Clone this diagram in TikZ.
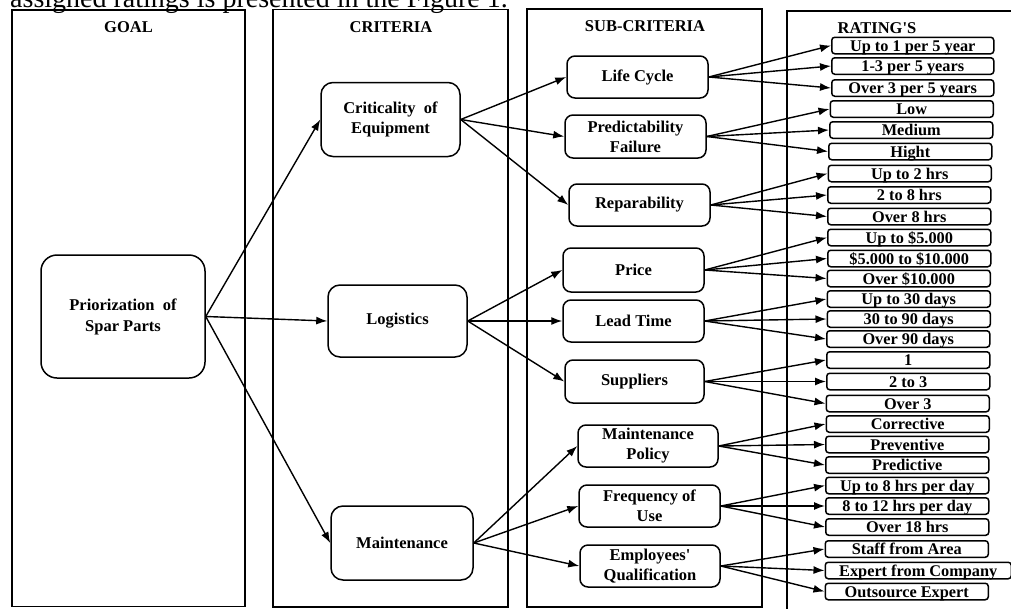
\documentclass[tikz,border=0pt]{standalone}
\usepackage{fontspec}
\setmainfont{Liberation Serif}[Ligatures=TeXOff]
\usetikzlibrary{arrows.meta}
\tikzset{
  panel/.style={draw, line width=1.5pt},
  head/.style={font=\fontsize{16.5}{18}\selectfont\bfseries, inner sep=0pt},
  goalbox/.style={draw, line width=1.5pt, rounded corners=16pt, align=center,
    minimum width=164pt, minimum height=123pt, inner sep=0pt,
    font=\fontsize{16.5}{21}\selectfont\bfseries},
  critbox/.style={draw, line width=1.5pt, rounded corners=12pt, align=center,
    minimum width=139pt, minimum height=74pt, inner sep=0pt,
    font=\fontsize{16.5}{20}\selectfont\bfseries},
  subbox/.style={draw, line width=1.5pt, rounded corners=8pt, align=center,
    minimum width=141pt, minimum height=42pt, inner sep=0pt,
    font=\fontsize{16.5}{20}\selectfont\bfseries},
  ratebox/.style={draw, line width=1.5pt, rounded corners=3pt, anchor=west,
    minimum width=163pt, minimum height=16.5pt, inner sep=0pt,
    text height=11.5pt, text depth=0pt,
    font=\fontsize{16.3}{16}\selectfont\bfseries},
  arr/.style={line width=1.4pt, -{Latex[length=11pt,width=8pt]}},
}
\begin{document}
\begin{tikzpicture}[x=1pt,y=-1pt]
\useasboundingbox (0,0) rectangle (1011,608);
\clip (0,0) rectangle (1011,608);
% cut-off caption line at top
\node[anchor=base west, inner sep=0pt, font=\fontsize{28}{30}\selectfont] (cap) at (10,7) {assigned ratings is presented in the Figure 1.};
% panels
\draw[panel] (12,10) rectangle (245,606.5);
\draw[panel] (273,9.5) rectangle (508,607);
\draw[panel] (527,9) rectangle (762,607);
\draw[panel] (787,612) -- (787,11) -- (1015,11);
% headers
\node[head] (hg) at (128.5,27) {GOAL};
\node[head] (hc) at (391,27) {CRITERIA};
\node[head] (hs) at (645,26) {SUB-CRITERIA};
\node[head] (hr) at (877,28) {RATING'S};
% goal
\node[goalbox] (goal) at (123,316.5) {Priorization\ \ of\\Spar Parts};
% criteria
\node[critbox] (c1) at (390.5,119.5) {Criticality\ \ of\\Equipment};
\node[critbox, minimum height=72pt] (c2) at (397.5,321) {Logistics};
\node[critbox, minimum width=142pt] (c3) at (402,543) {Maintenance};
% sub-criteria
\node[subbox] (s1) at (637.5,77) {Life Cycle};
\node[subbox, minimum height=43pt] (s2) at (635.5,136.5) {Predictability\\Failure};
\node[subbox] (s3) at (639.5,205) {Reparability};
\node[subbox, minimum height=44pt] (s4) at (633.5,270) {Price};
\node[subbox] (s5) at (633.5,321) {Lead Time};
\node[subbox, minimum width=139pt, minimum height=43pt] (s6) at (634.5,381.5) {Suppliers};
\node[subbox, minimum width=140pt] (s7) at (648,446) {Maintenance\\Policy};
\node[subbox] (s8) at (649.5,506) {Frequency of\\Use};
\node[subbox, minimum width=140pt] (s9) at (650,566) {Employees'\\Qualification};
% ratings
\node[ratebox, minimum width=162pt] (r1) at (831,45.5) {Up to 1 per 5 year};
\node[ratebox, minimum width=162pt] (r2) at (831,66) {1-3 per 5 years};
\node[ratebox, minimum width=162pt] (r3) at (831,88) {Over 3 per 5 years};
\node[ratebox] (r4) at (829.5,109) {Low};
\node[ratebox] (r5) at (829,130) {Medium};
\node[ratebox] (r6) at (828,151.5) {Hight};
\node[ratebox] (r7) at (827.5,173.5) {Up to 2 hrs};
\node[ratebox] (r8) at (827,195) {2 to 8 hrs};
\node[ratebox] (r9) at (827,216.5) {Over 8 hrs};
\node[ratebox] (r10) at (827,237.5) {Up to \$5.000};
\node[ratebox] (r11) at (827,258.5) {\$5.000 to \$10.000};
\node[ratebox] (r12) at (826.5,278.5) {Over \$10.000};
\node[ratebox] (r13) at (826.5,299) {Up to 30 days};
\node[ratebox] (r14) at (826.5,319) {30 to 90 days};
\node[ratebox] (r15) at (826,339) {Over 90 days};
\node[ratebox] (r16) at (826,360) {1};
\node[ratebox] (r17) at (826,381.5) {2 to 3};
\node[ratebox] (r18) at (825.5,403.5) {Over 3};
\node[ratebox] (r19) at (825.5,424) {Corrective};
\node[ratebox] (r20) at (825,444.5) {Preventive};
\node[ratebox] (r21) at (825,465) {Predictive};
\node[ratebox] (r22) at (825,485.5) {Up to 8 hrs per day};
\node[ratebox] (r23) at (825,506) {8 to 12 hrs per day};
\node[ratebox] (r24) at (825,527) {Over 18 hrs};
\node[ratebox] (r25) at (824.5,549) {Staff from Area};
\node[ratebox, minimum width=186pt] (r26) at (824.5,570.5) {Expert from Company};
\node[ratebox] (r27) at (824.5,591.5) {Outsource Expert};
% connectors: goal -> criteria
\foreach \c in {c1,c2,c3} \draw[arr] (goal.east) -- (\c.west);
% criteria -> sub-criteria
\foreach \s in {s1,s2,s3} \draw[arr] (c1.east) -- (\s.west);
\foreach \s in {s4,s5,s6} \draw[arr] (c2.east) -- (\s.west);
\foreach \s in {s7,s8,s9} \draw[arr] (c3.east) -- (\s.west);
% sub-criteria -> ratings
\foreach \s/\a/\b/\c in {s1/r1/r2/r3, s2/r4/r5/r6, s3/r7/r8/r9,
  s4/r10/r11/r12, s5/r13/r14/r15, s6/r16/r17/r18,
  s7/r19/r20/r21, s8/r22/r23/r24, s9/r25/r26/r27}{
  \draw[arr] (\s.east) -- (\a.west);
  \draw[arr] (\s.east) -- (\b.west);
  \draw[arr] (\s.east) -- (\c.west);
}
\end{tikzpicture}
\end{document}
